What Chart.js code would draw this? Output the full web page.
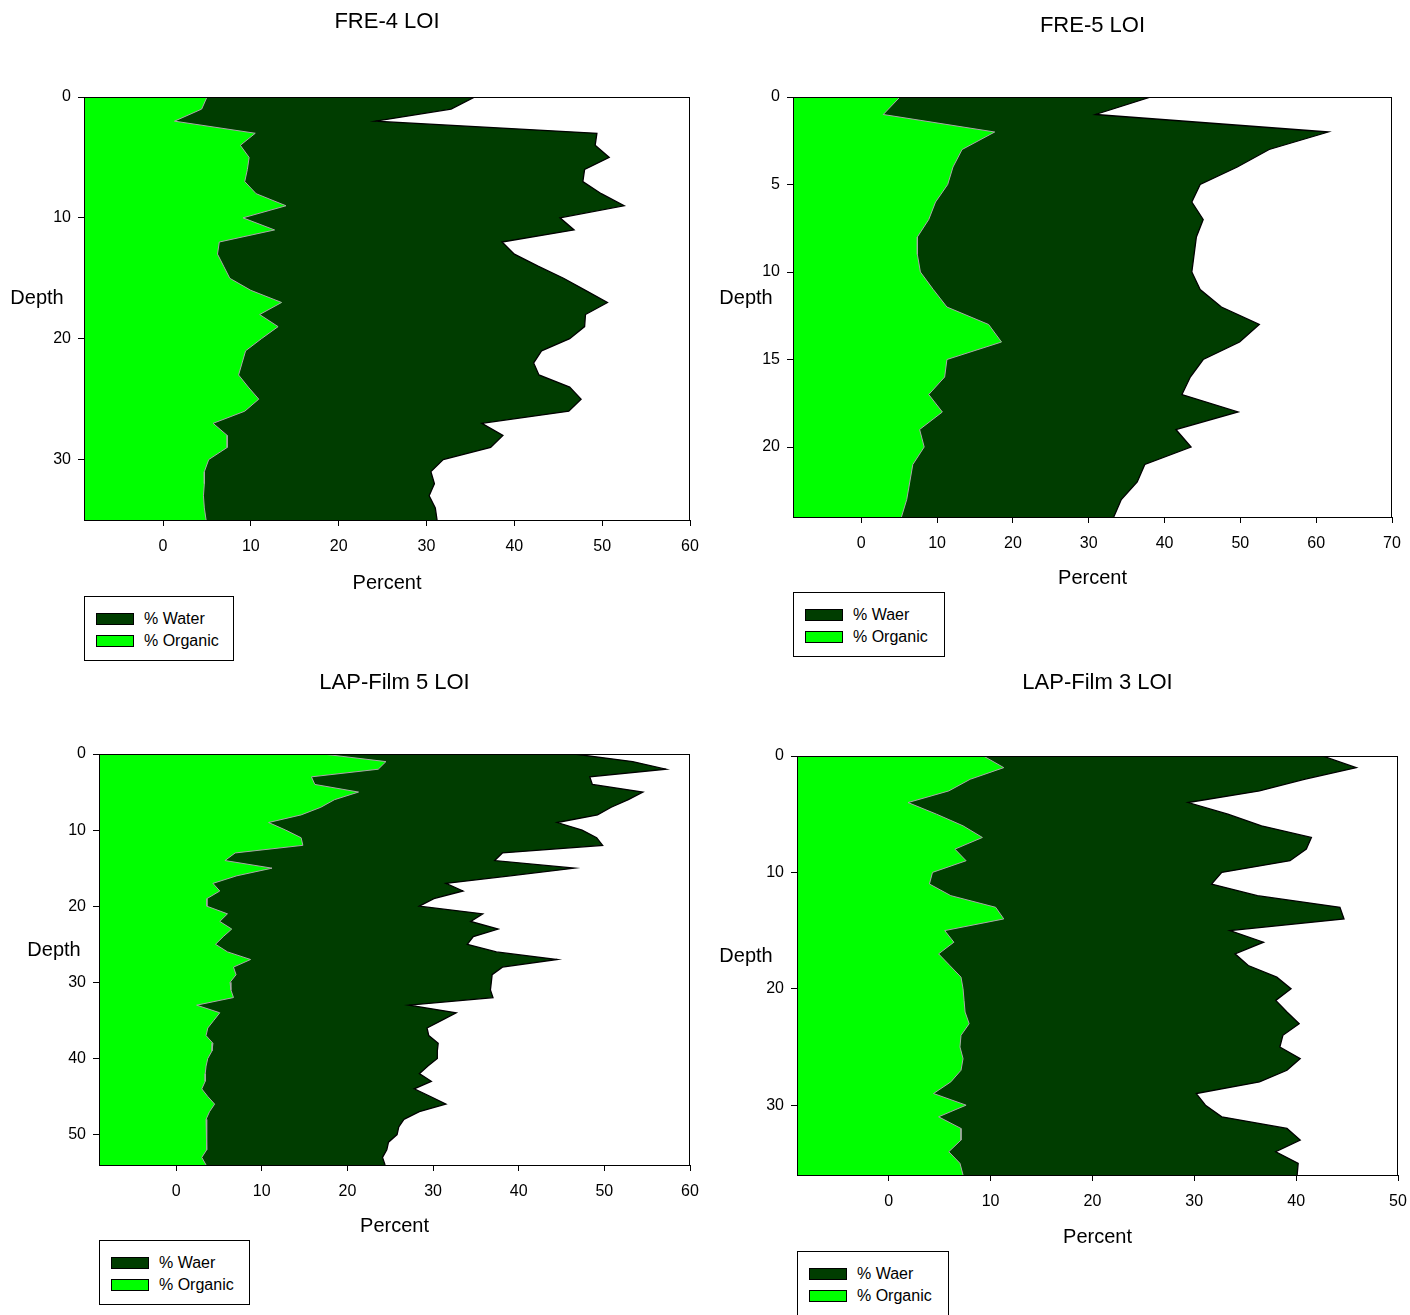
<!DOCTYPE html>
<html>
<head>
<meta charset="utf-8">
<script src="https://cdn.jsdelivr.net/npm/chart.js@4.4.1/dist/chart.umd.min.js"></script>
<style>
  html, body { margin: 0; padding: 0; background: #fff; }
  body { width: 1410px; height: 1315px; position: relative; overflow: hidden;
         font-family: "Liberation Sans", Arial, sans-serif; color: #000; }
  canvas { position: absolute; }
  .depth { position: absolute; font-size: 20px; transform: translate(-50%, -50%); white-space: nowrap; }
  .legend { position: absolute; border: 1px solid #000; background: #fff; box-sizing: border-box; }
  .legend .row { position: absolute; left: 11px; height: 12px; font-size: 16px; white-space: nowrap; }
  .legend .sw { position: absolute; left: 0; top: 0; width: 38px; height: 12px; border: 1px solid #000; box-sizing: border-box; }
  .legend .tx { position: absolute; left: 48px; top: 6px; transform: translateY(-50%); line-height: 1; }
</style>
</head>
<body>

<script>
// FRE-4 LOI
var fre4Depth = [0, 1, 2, 3, 4, 5, 6, 7, 8, 9, 10, 11, 12, 13, 14, 15, 16, 17,
                 18, 19, 20, 21, 22, 23, 24, 25, 26, 27, 28, 29, 30, 31, 32, 33, 34, 35];
var fre4Water = [35.5, 32.8, 24.2, 49.4, 49.2, 50.8, 48.0, 47.8, 49.9, 52.5, 45.2, 46.8,
                 38.6, 40.0, 42.7, 45.6, 48.1, 50.6, 48.1, 48.0, 46.3, 43.1, 42.2, 42.8,
                 46.3, 47.6, 46.2, 36.3, 38.7, 37.3, 31.9, 30.5, 30.9, 30.3, 31.0, 31.2];
var fre4Organic = [5.0, 4.4, 1.3, 10.5, 8.8, 9.8, 9.6, 9.3, 10.6, 14.0, 9.1, 12.7,
                   6.4, 6.2, 6.9, 7.6, 10.0, 13.5, 11.0, 13.1, 11.2, 9.4, 9.0, 8.6,
                   9.7, 10.9, 9.3, 5.7, 7.3, 7.3, 5.2, 4.7, 4.7, 4.6, 4.7, 4.9];

// FRE-5 LOI
var fre5Depth = [0, 1, 2, 3, 4, 5, 6, 7, 8, 9, 10, 11, 12, 13, 14, 15, 16, 17, 18, 19, 20, 21, 22, 23, 24];
var fre5Water = [38.2, 30.9, 61.6, 53.8, 49.6, 44.7, 43.6, 45.1, 44.2, 43.9, 43.6, 44.7, 47.5,
                 52.5, 49.9, 45.1, 43.4, 42.3, 49.7, 41.5, 43.5, 37.4, 36.4, 34.3, 33.3];
var fre5Organic = [5.1, 2.9, 17.6, 13.3, 12.1, 11.4, 9.8, 8.9, 7.4, 7.4, 7.8, 9.5, 11.3,
                   16.8, 18.5, 11.3, 11.0, 8.9, 10.7, 7.7, 8.3, 6.8, 6.4, 6.0, 5.3];

// LAP-Film 5 LOI
var lap5Depth = [0, 1, 2, 3, 4, 5, 6, 7, 8, 9, 10, 11, 12, 13, 14, 15, 16, 17, 18, 19,
                 20, 21, 22, 23, 24, 25, 26, 27, 28, 29, 30, 31, 32, 33, 34, 35, 36, 37, 38, 39,
                 40, 41, 42, 43, 44, 45, 46, 47, 48, 49, 50, 51, 52, 53, 54];
var lap5Water = [46.5, 53.3, 57.2, 48.3, 48.6, 54.5, 52.8, 50.8, 49.2, 44.5,
                 47.4, 49.1, 49.8, 38.1, 37.2, 46.5, 39.0, 31.5, 33.5, 30.1,
                 28.4, 35.8, 34.4, 37.6, 34.7, 34.0, 37.4, 44.5, 38.1, 36.9,
                 36.8, 36.7, 37.0, 27.2, 32.7, 31.0, 29.3, 29.5, 30.6, 30.5,
                 30.5, 29.4, 28.4, 29.8, 27.8, 29.7, 31.5, 28.4, 26.6, 26.0,
                 25.8, 24.8, 24.6, 24.1, 24.4];
var lap5Organic = [17.1, 24.5, 23.6, 15.8, 16.2, 21.3, 18.5, 16.9, 14.6, 10.8,
                   12.8, 14.6, 14.8, 6.9, 5.7, 11.2, 7.1, 4.3, 5.1, 3.6,
                   3.6, 6.0, 5.1, 6.5, 5.5, 4.6, 6.0, 8.7, 6.7, 7.0,
                   6.3, 6.4, 6.7, 2.4, 5.1, 4.4, 3.7, 3.5, 4.3, 4.2,
                   3.7, 3.5, 3.4, 3.4, 3.0, 3.7, 4.5, 3.9, 3.5, 3.6,
                   3.6, 3.6, 3.5, 3.0, 3.5];

// LAP-Film 3 LOI
var lap3Depth = [0, 1, 2, 3, 4, 5, 6, 7, 8, 9, 10, 11, 12, 13, 14, 15, 16, 17, 18,
                 19, 20, 21, 22, 23, 24, 25, 26, 27, 28, 29, 30, 31, 32, 33, 34, 35, 36];
var lap3Water = [42.6, 45.9, 40.8, 36.4, 29.4, 33.3, 36.6, 41.5, 41.0, 39.4,
                 32.7, 31.7, 36.2, 44.3, 44.7, 33.5, 36.8, 34.0, 35.3, 38.1,
                 39.5, 38.0, 39.1, 40.3, 38.7, 38.4, 40.4, 39.1, 36.4, 30.2,
                 31.1, 32.7, 39.1, 40.4, 38.0, 40.2, 40.1];
var lap3Organic = [9.3, 11.3, 8.0, 5.9, 1.9, 4.7, 7.3, 9.2, 6.5, 7.6,
                   4.3, 4.0, 6.1, 10.5, 11.3, 5.5, 6.4, 4.9, 6.0, 7.1,
                   7.3, 7.4, 7.5, 7.9, 7.1, 7.0, 7.3, 7.1, 6.1, 4.4,
                   7.6, 4.9, 7.1, 7.1, 5.9, 7.0, 7.3];

// tick labels
var xTicks60 = [0, 10, 20, 30, 40, 50, 60];
var xTicks70 = [0, 10, 20, 30, 40, 50, 60, 70];
var xTicks50 = [0, 10, 20, 30, 40, 50];
var yTicks10 = [0, 10, 20, 30];
var yTicks5 = [0, 5, 10, 15, 20];
var yTicks50 = [0, 10, 20, 30, 40, 50];

var xStart = -9;
var waterColor = '#003d00';
var organicColor = '#00ff00';
var titleSize = 22;

Chart.defaults.font.family = '"Liberation Sans", Arial, sans-serif';
Chart.defaults.color = '#000';

// box round the plot area, drawn over the fills
var framePlugin = {
    id: 'frame',
    afterDatasetsDraw: function(chart) {
        var a = chart.chartArea;
        var ctx = chart.ctx;
        ctx.save();
        ctx.strokeStyle = '#000';
        ctx.lineWidth = 1;
        ctx.strokeRect(a.left + 0.5, a.top + 0.5, a.right - a.left - 1, a.bottom - a.top);
        ctx.restore();
    }
};

function toPoints(depths, values) {
    return depths.map(function(d, i) { return { x: values[i], y: d }; });
}

function makePanel(p) {
    var cLeft = p.left - 84;
    var cTop = p.top - 97;
    var canvas = document.createElement('canvas');
    canvas.width = (p.right - p.left) + 84 + 21;
    canvas.height = (p.bottom - p.top) + 97 + 80;
    canvas.style.left = cLeft + 'px';
    canvas.style.top = cTop + 'px';
    document.body.appendChild(canvas);

    var lh = titleSize * 1.2;
    var titleTop = p.titleY - cTop - lh / 2;

    new Chart(canvas.getContext('2d'), {
        type: 'line',
        data: {
            datasets: [{
                label: '% Organic',
                data: toPoints(p.depth, p.organic),
                backgroundColor: organicColor,
                borderColor: '#a8a8a8',
                borderWidth: 1,
                fill: { value: xStart },
                pointRadius: 0,
                tension: 0
            }, {
                label: p.waterLabel,
                data: toPoints(p.depth, p.water),
                backgroundColor: waterColor,
                borderColor: '#000',
                borderWidth: 1.3,
                fill: { value: xStart },
                pointRadius: 0,
                tension: 0
            }]
        },
        options: {
            indexAxis: 'y',
            responsive: false,
            animation: false,
            layout: { padding: { left: 24, right: 21, top: 0, bottom: 0 } },
            plugins: {
                legend: { display: false },
                tooltip: { enabled: false },
                title: {
                    display: true,
                    text: p.title,
                    fullSize: false,
                    color: '#000',
                    font: { size: titleSize, weight: 'normal' },
                    padding: { top: titleTop, bottom: 97 - lh - titleTop }
                }
            },
            scales: {
                x: {
                    type: 'linear',
                    min: xStart,
                    max: p.xMax,
                    afterBuildTicks: function(s) { s.ticks = p.xTicks.map(function(v) { return { value: v }; }); },
                    afterFit: function(s) { s.height = 80; },
                    ticks: { font: { size: 16 }, padding: 11, color: '#000', autoSkip: false, maxRotation: 0 },
                    grid: { drawOnChartArea: false, drawTicks: true, tickLength: 6, color: '#000', lineWidth: 1 },
                    border: { display: true, color: '#000', width: 1 },
                    title: {
                        display: true,
                        text: 'Percent',
                        color: '#000',
                        font: { size: 20 },
                        padding: { top: 0, bottom: p.bottom + 68 - p.percentY }
                    }
                },
                y: {
                    type: 'linear',
                    reverse: true,
                    min: 0,
                    max: p.yMax,
                    afterBuildTicks: function(s) { s.ticks = p.yTicks.map(function(v) { return { value: v }; }); },
                    afterFit: function(s) { s.width = 60; },
                    ticks: { font: { size: 16 }, padding: 7, color: '#000', autoSkip: false },
                    grid: { drawOnChartArea: false, drawTicks: true, tickLength: 6, color: '#000', lineWidth: 1 },
                    border: { display: true, color: '#000', width: 1 }
                }
            }
        },
        plugins: [framePlugin]
    });

    // "Depth" label, written level as in the original
    var dl = document.createElement('div');
    dl.className = 'depth';
    dl.textContent = 'Depth';
    dl.style.left = p.depthX + 'px';
    dl.style.top = p.depthY + 'px';
    document.body.appendChild(dl);

    // legend box
    var lg = document.createElement('div');
    lg.className = 'legend';
    lg.style.left = p.left + 'px';
    lg.style.top = p.legendY + 'px';
    lg.style.width = p.legendW + 'px';
    lg.style.height = '65px';
    [[p.waterLabel, waterColor, 16], ['% Organic', organicColor, 38]].forEach(function(it) {
        var row = document.createElement('div');
        row.className = 'row';
        row.style.top = it[2] + 'px';
        row.innerHTML = '<span class="sw" style="background:' + it[1] + '"></span><span class="tx"></span>';
        row.querySelector('.tx').textContent = it[0];
        lg.appendChild(row);
    });
    document.body.appendChild(lg);
}

makePanel({ title: 'FRE-4 LOI', waterLabel: '% Water',
    left: 84, top: 97, right: 690, bottom: 520, titleY: 22, percentY: 583,
    depthX: 37, depthY: 297, legendY: 596, legendW: 150,
    depth: fre4Depth, water: fre4Water, organic: fre4Organic,
    xMax: 60, xTicks: xTicks60, yMax: 35, yTicks: yTicks10 });

makePanel({ title: 'FRE-5 LOI', waterLabel: '% Waer',
    left: 793, top: 97, right: 1392, bottom: 517, titleY: 26, percentY: 578,
    depthX: 746, depthY: 297, legendY: 592, legendW: 152,
    depth: fre5Depth, water: fre5Water, organic: fre5Organic,
    xMax: 70, xTicks: xTicks70, yMax: 24, yTicks: yTicks5 });

makePanel({ title: 'LAP-Film 5 LOI', waterLabel: '% Waer',
    left: 99, top: 754, right: 690, bottom: 1165, titleY: 683, percentY: 1226,
    depthX: 54, depthY: 949, legendY: 1240, legendW: 151,
    depth: lap5Depth, water: lap5Water, organic: lap5Organic,
    xMax: 60, xTicks: xTicks60, yMax: 54, yTicks: yTicks50 });

makePanel({ title: 'LAP-Film 3 LOI', waterLabel: '% Waer',
    left: 797, top: 756, right: 1398, bottom: 1175, titleY: 683, percentY: 1237,
    depthX: 746, depthY: 955, legendY: 1251, legendW: 152,
    depth: lap3Depth, water: lap3Water, organic: lap3Organic,
    xMax: 50, xTicks: xTicks50, yMax: 36, yTicks: yTicks10 });
</script>
</body>
</html>
